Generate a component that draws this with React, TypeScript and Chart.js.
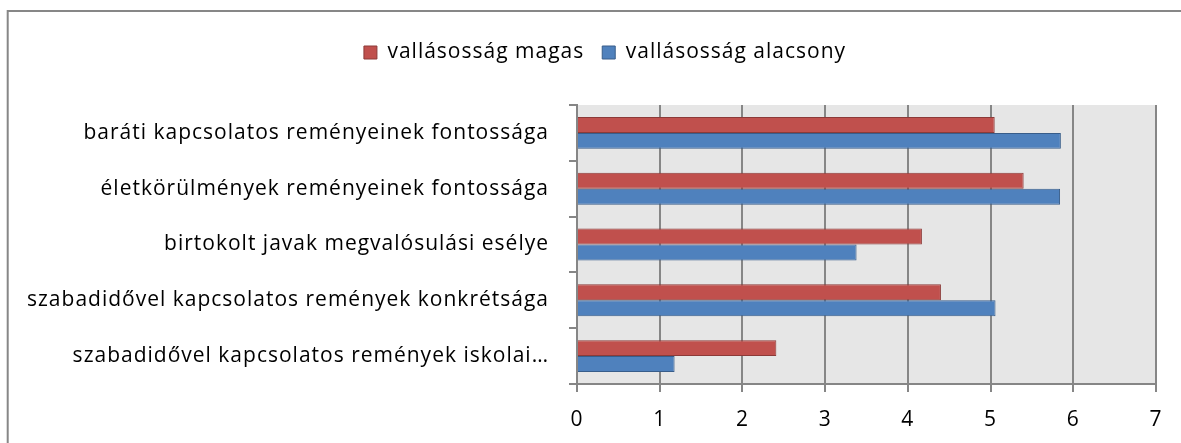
import React, { useEffect, useRef } from "react";
import { Chart, registerables } from "chart.js";

Chart.register(...registerables);

const categories = [
  "baráti kapcsolatos reményeinek fontossága",
  "életkörülmények reményeinek fontossága",
  "birtokolt javak megvalósulási esélye",
  "szabadidővel kapcsolatos remények konkrétsága",
  "szabadidővel kapcsolatos remények iskolai…",
];
const seriesHighLabel = "vallásosság magas";
const seriesLowLabel = "vallásosság alacsony";
const seriesHigh = [5.05, 5.4, 4.17, 4.4, 2.41];
const seriesLow = [5.85, 5.84, 3.38, 5.06, 1.18];
const xTicks = [0, 1, 2, 3, 4, 5, 6, 7];

const GRID = "#868686";
const FONT = "'Open Sans'";
const FS = 21;
const PAD_LEFT = 10;

const setSpacing = (chart: any) => {
  try {
    chart.ctx.letterSpacing = "1px";
  } catch (e) {}
};

const framePlugin = {
  id: "frameAndPlot",
  beforeInit(chart: any) {
    setSpacing(chart);
    const lg = chart.legend;
    if (lg) {
      const origFit = lg.fit.bind(lg);
      lg.fit = function () {
        origFit();
        this.height += 32;
      };
      const origDraw = lg.draw.bind(lg);
      lg.draw = function () {
        const c = chart.ctx;
        c.save();
        c.translate(22, 0);
        origDraw();
        c.restore();
      };
    }
  },
  beforeUpdate(chart: any) {
    setSpacing(chart);
  },
  beforeDraw(chart: any) {
    setSpacing(chart);
    const { ctx, chartArea } = chart;
    ctx.save();
    ctx.fillStyle = "#ffffff";
    ctx.fillRect(0, 0, chart.width, chart.height);
    ctx.fillStyle = "#e6e6e6";
    ctx.fillRect(chartArea.left, chartArea.top, chartArea.right - chartArea.left, chartArea.bottom - chartArea.top);
    ctx.strokeStyle = "#878787";
    ctx.lineWidth = 2;
    ctx.beginPath();
    ctx.moveTo(7.7, chart.height);
    ctx.lineTo(7.7, 11);
    ctx.lineTo(chart.width, 11);
    ctx.stroke();
    ctx.restore();
  },
};

export default function App() {
  const ref = useRef<HTMLCanvasElement | null>(null);
  useEffect(() => {
    if (!ref.current) return;
    Chart.defaults.font.family = FONT;
    const chart = new Chart(ref.current, {
      type: "bar",
      data: {
        labels: categories,
        datasets: [
          {
            label: seriesHighLabel,
            data: seriesHigh,
            backgroundColor: "#c0504d",
            borderColor: "#8c3a38",
            borderWidth: 1,
          },
          {
            label: seriesLowLabel,
            data: seriesLow,
            backgroundColor: "#4f81bd",
            borderColor: "#385d8a",
            borderWidth: 1,
          },
        ],
      },
      options: {
        indexAxis: "y",
        animation: false,
        responsive: false,
        maintainAspectRatio: false,
        layout: { padding: { left: PAD_LEFT, right: 25, top: 24, bottom: 0 } },
        datasets: { bar: { categoryPercentage: 0.571, barPercentage: 1 } },
        plugins: {
          tooltip: { enabled: false },
          legend: {
            position: "top",
            labels: {
              color: "#000",
              font: { size: FS, family: FONT },
              boxWidth: 13,
              boxHeight: 13,
              padding: 18,
            },
          },
        },
        scales: {
          x: {
            min: 0,
            max: 7,
            afterBuildTicks(scale: any) {
              scale.ticks = xTicks.map((v) => ({ value: v }));
            },
            afterFit(scale: any) {
              scale.height = 59;
            },
            ticks: { color: "#000", font: { size: FS, family: FONT }, padding: 15 },
            grid: { color: GRID, lineWidth: 2, tickLength: 8, drawTicks: true },
            border: { color: GRID, width: 2 },
          },
          y: {
            afterFit(scale: any) {
              scale.width = 577 - PAD_LEFT;
            },
            ticks: { color: "#000", font: { size: FS, family: FONT }, padding: 20 },
            grid: { drawOnChartArea: false, drawTicks: true, tickLength: 8, color: GRID, lineWidth: 2, offset: true },
            border: { color: GRID, width: 2 },
          },
        },
      },
      plugins: [framePlugin],
    });
    return () => chart.destroy();
  }, []);
  return (
    <div style={{ position: "absolute", left: 0, top: 0, width: 1181, height: 443 }}>
      <canvas ref={ref} width={1181} height={443} style={{ display: "block", width: 1181, height: 443 }} />
    </div>
  );
}
